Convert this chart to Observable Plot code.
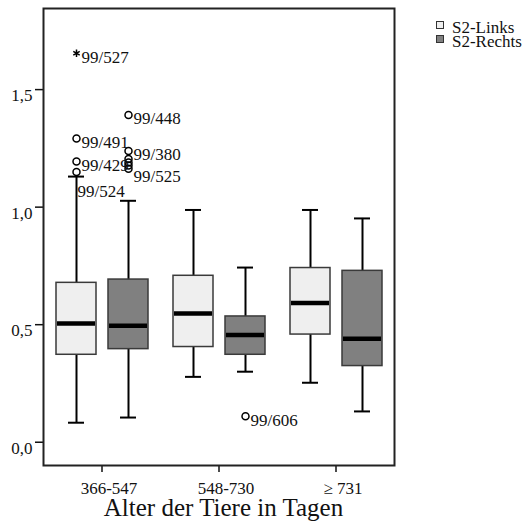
<!DOCTYPE html>
<html><head><meta charset="utf-8">
<script src="https://cdn.jsdelivr.net/npm/d3@7"></script>
<script src="https://cdn.jsdelivr.net/npm/@observablehq/plot@0.6"></script>
<style>
body{margin:0;background:#fff;font-family:'Liberation Serif','Times New Roman',serif;}
#wrap{position:relative;width:529px;height:521px;}
#chart svg{font-family:'Liberation Serif','Times New Roman',serif !important;font-size:17px !important;display:block;}
#chart svg text{font-family:'Liberation Serif','Times New Roman',serif;}
#legend{position:absolute;left:436px;top:20.5px;font-size:17px;line-height:14px;color:#111;}
.row{display:flex;align-items:flex-start;height:14px;white-space:nowrap;}
.sw{width:6px;height:6px;border:1px solid #333;margin-right:8px;}
#title{width:447px;text-align:center;font-size:25px;line-height:17px;color:#111;}
</style></head><body>
<div id="wrap"><div id="chart"></div><div id="title"></div><div id="legend"></div></div>
<script>
// Categories
const groups = ["366-547", "548-730", "≥ 731"];
const sides = ["S2-Links", "S2-Rechts"];
const sideColors = ["#efefef", "#808080"];
const axisTitle = "Alter der Tiere in Tagen";
const yTicks = [0, 0.5, 1.0, 1.5];

// Box statistics (order: group-major, Links then Rechts)
const whiskerLow  = [0.083, 0.105, 0.278, 0.300, 0.253, 0.131];
const quart1      = [0.372, 0.396, 0.405, 0.372, 0.458, 0.324];
const medians     = [0.505, 0.495, 0.548, 0.456, 0.592, 0.440];
const quart3      = [0.678, 0.692, 0.708, 0.535, 0.741, 0.729];
const whiskerHigh = [1.130, 1.027, 0.988, 0.743, 0.988, 0.952];

// Outliers
const outGroup = ["366-547","366-547","366-547","366-547","366-547","366-547","366-547","366-547","366-547","366-547","548-730"];
const outSide  = ["S2-Links","S2-Links","S2-Links","S2-Links","S2-Rechts","S2-Rechts","S2-Rechts","S2-Rechts","S2-Rechts","S2-Rechts","S2-Rechts"];
const outValue = [1.655, 1.292, 1.194, 1.150, 1.392, 1.239, 1.205, 1.190, 1.177, 1.163, 0.110];
const outLabel = ["99/527","99/491","99/429","99/524","99/448","99/380","","","","99/525","99/606"];
const outKind  = ["extreme","outlier","outlier","outlier","outlier","outlier","outlier","outlier","outlier","outlier","outlier"];
const outPlace = ["right","right","right","below","right","right","right","right","right","lower","right"];

const boxes = [];
groups.forEach((g, i) => sides.forEach((s, j) => {
  const k = i * 2 + j;
  boxes.push({group: g, side: s, low: whiskerLow[k], q1: quart1[k], median: medians[k], q3: quart3[k], high: whiskerHigh[k]});
}));
const outliers = outValue.map((v, i) => ({group: outGroup[i], side: outSide[i], value: v, label: outLabel[i], kind: outKind[i], place: outPlace[i]}));

const fmt = d => d.toFixed(1).replace(".", ",");
const common = {fx: "group", x: "side"};
const chart = Plot.plot({
  width: 529, height: 499,
  marginLeft: 42, marginRight: 135, marginTop: 8, marginBottom: 34,
  style: {fontFamily: "'Liberation Serif', 'Times New Roman', serif", fontSize: "17px", color: "#111", background: "#fff"},
  fx: {domain: groups, padding: 0},
  x: {domain: sides, padding: 0.236, axis: null},
  y: {domain: [-0.099, 1.845]},
  color: {domain: sides, range: sideColors},
  marks: [
    Plot.ruleX(boxes, {...common, y1: "low", y2: "high", stroke: "#000", strokeWidth: 2}),
    Plot.tickY(boxes, {...common, y: "low", stroke: "#000", strokeWidth: 2, insetLeft: 12, insetRight: 12}),
    Plot.tickY(boxes, {...common, y: "high", stroke: "#000", strokeWidth: 2, insetLeft: 12, insetRight: 12}),
    Plot.barY(boxes, {...common, y1: "q1", y2: "q3", fill: "side", stroke: "#3a3a3a", strokeWidth: 1.5}),
    Plot.tickY(boxes, {...common, y: "median", stroke: "#000", strokeWidth: 4.5, insetLeft: 1, insetRight: 1}),
    Plot.dot(outliers.filter(d => d.kind === "outlier"), {...common, y: "value", r: 3.5, stroke: "#000", strokeWidth: 1.5, fill: "none"}),
    Plot.dot(outliers.filter(d => d.kind === "extreme"), {...common, y: "value", symbol: "asterisk", r: 3.5, stroke: "#000", strokeWidth: 1.5}),
    Plot.text(outliers.filter(d => d.place === "right"), {...common, y: "value", text: "label", textAnchor: "start", dx: 5, dy: 4, fill: "#111", fontSize: 17}),
    Plot.text(outliers.filter(d => d.place === "lower"), {...common, y: "value", text: "label", textAnchor: "start", dx: 5, dy: 8, fill: "#111", fontSize: 17}),
    Plot.text(outliers.filter(d => d.place === "below"), {...common, y: "value", text: "label", textAnchor: "start", dx: 1, dy: 20, fill: "#111", fontSize: 17}),
    Plot.axisY({ticks: yTicks, tickSize: 8, text: null, strokeWidth: 1.5, label: null}),
    Plot.axisY({ticks: yTicks, tickFormat: fmt, tickSize: 0, tickPadding: 11, dy: 6, fontSize: 17, label: null}),
    Plot.axisFx({anchor: "bottom", tickSize: 7, text: null, strokeWidth: 1.5, label: null}),
    Plot.axisFx({anchor: "bottom", tickSize: 0, tickPadding: 16, dx: 7, fontSize: 17, label: null}),
    Plot.frame({facet: "super", stroke: "#222", strokeWidth: 2})
  ]
});
document.getElementById("chart").appendChild(chart);
document.getElementById("title").textContent = axisTitle;
const legend = document.getElementById("legend");
sides.forEach((s, i) => {
  const row = document.createElement("div");
  row.className = "row";
  const sw = document.createElement("div");
  sw.className = "sw";
  sw.style.background = sideColors[i];
  const t = document.createElement("span");
  t.textContent = s;
  row.appendChild(sw); row.appendChild(t);
  legend.appendChild(row);
});
</script>
</body></html>
